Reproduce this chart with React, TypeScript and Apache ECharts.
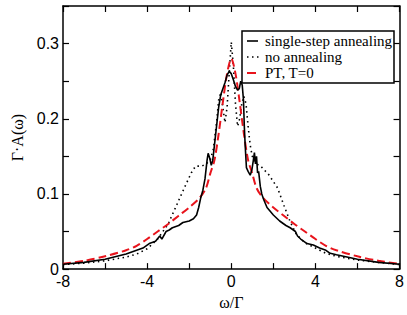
import React, { useEffect, useRef } from "react";
import * as echarts from "echarts";

// single-step annealing (solid black)
const solidW = [-8, -7, -6, -5, -4.5, -4.2, -3.9, -3.6, -3.4, -3.3, -3.1, -2.95, -2.8, -2.5, -2.3, -2.0, -1.8, -1.65, -1.55, -1.45, -1.35, -1.25, -1.15, -1.1, -1.02, -0.95, -0.88, -0.8, -0.7, -0.6, -0.5, -0.4, -0.3, -0.2, -0.1, 0, 0.1, 0.2, 0.3, 0.38, 0.45, 0.52, 0.58, 0.62, 0.66, 0.72, 0.8, 0.9, 0.98, 1.05, 1.1, 1.15, 1.2, 1.25, 1.3, 1.38, 1.45, 1.55, 1.7, 2.0, 2.3, 2.6, 2.8, 2.95, 3.05, 3.15, 3.3, 3.6, 3.9, 4.2, 4.5, 4.7, 5, 6, 7, 8];
const solidA = [0.0065, 0.009, 0.013, 0.02, 0.025, 0.028, 0.034, 0.037, 0.044, 0.04, 0.05, 0.052, 0.055, 0.058, 0.062, 0.064, 0.067, 0.072, 0.082, 0.095, 0.105, 0.12, 0.145, 0.154, 0.147, 0.138, 0.145, 0.165, 0.19, 0.215, 0.232, 0.24, 0.248, 0.258, 0.263, 0.26, 0.252, 0.243, 0.238, 0.24, 0.25, 0.245, 0.225, 0.19, 0.165, 0.135, 0.13, 0.125, 0.132, 0.145, 0.155, 0.14, 0.15, 0.128, 0.13, 0.11, 0.1, 0.092, 0.082, 0.072, 0.064, 0.058, 0.055, 0.052, 0.05, 0.044, 0.04, 0.034, 0.032, 0.028, 0.025, 0.021, 0.019, 0.013, 0.009, 0.0065];

// no annealing (dotted black)
const dotW = [-8, -7, -6, -5, -4.5, -4, -3.5, -3, -2.6, -2.2, -1.9, -1.7, -1.4, -1.2, -1.0, -0.85, -0.7, -0.6, -0.5, -0.4, -0.3, -0.2, -0.1, 0, 0.1, 0.2, 0.3, 0.4, 0.5, 0.6, 0.7, 0.8, 0.9, 1.0, 1.2, 1.4, 1.8, 2.2, 2.5, 2.8, 3.1, 3.5, 4.0, 4.5, 5, 6, 7, 8];
const dotA = [0.006, 0.008, 0.011, 0.016, 0.02, 0.027, 0.04, 0.06, 0.085, 0.11, 0.128, 0.137, 0.137, 0.14, 0.145, 0.16, 0.195, 0.225, 0.235, 0.215, 0.195, 0.215, 0.26, 0.302, 0.27, 0.22, 0.19, 0.2, 0.22, 0.23, 0.22, 0.19, 0.165, 0.15, 0.14, 0.137, 0.125, 0.108, 0.085, 0.063, 0.046, 0.035, 0.028, 0.021, 0.017, 0.012, 0.009, 0.006];

// PT, T=0 (red dashed)
const ptW = [-8, -7, -6, -5, -4.5, -4, -3.5, -3, -2.5, -2, -1.5, -1.2, -1, -0.8, -0.6, -0.4, -0.2, 0, 0.2, 0.4, 0.6, 0.8, 1, 1.2, 1.5, 2, 2.5, 3, 3.5, 4, 4.5, 5, 6, 7, 8];
const ptA = [0.007, 0.011, 0.017, 0.025, 0.031, 0.04, 0.05, 0.06, 0.071, 0.082, 0.095, 0.108, 0.127, 0.145, 0.18, 0.222, 0.26, 0.28, 0.26, 0.222, 0.18, 0.145, 0.127, 0.108, 0.095, 0.082, 0.071, 0.06, 0.05, 0.04, 0.031, 0.025, 0.017, 0.011, 0.007];

const legendNames = ["single-step annealing", "no annealing", "PT, T=0"];

const zip = (w: number[], a: number[]) => w.map((x, i) => [x, a[i]]);

export default function App() {
  const ref = useRef<HTMLDivElement>(null);
  useEffect(() => {
    if (!ref.current) return;
    document.body.style.margin = "0";
    const chart = echarts.init(ref.current, null, { renderer: "svg" });
    const sans = "Liberation Sans, Arial, sans-serif";
    const serif = "'Liberation Serif', 'Times New Roman', serif";
    const axisCommon = {
      axisLine: { show: true, onZero: false, lineStyle: { color: "#000", width: 1.5 } },
      axisTick: { show: true, inside: true, length: 6, lineStyle: { color: "#000", width: 1.2 } },
      splitLine: { show: false },
    };
    const lx = 247;
    const tx = 265;
    const rows = [41, 57, 73];
    chart.setOption({
      animation: false,
      backgroundColor: "#fff",
      grid: { left: 63, right: 7, top: 6, bottom: 40 },
      xAxis: [
        {
          type: "value", min: -8, max: 8, interval: 2, position: "bottom",
          ...axisCommon,
          name: "ω/Γ", nameLocation: "middle", nameGap: 21,
          nameTextStyle: { fontFamily: serif, fontSize: 16, color: "#000" },
          axisLabel: {
            fontFamily: sans, fontSize: 16, color: "#000", margin: 4,
            formatter: (v: number) => (v % 4 === 0 ? String(v) : ""),
          },
        },
        {
          type: "value", min: -8, max: 8, interval: 2, position: "top",
          ...axisCommon, axisLabel: { show: false },
        },
      ],
      yAxis: [
        {
          type: "value", min: 0, max: 0.35, interval: 0.05, position: "left",
          ...axisCommon,
          name: "Γ·A(ω)", nameLocation: "middle", nameGap: 30,
          nameTextStyle: { fontFamily: serif, fontSize: 16, color: "#000" },
          axisLabel: {
            fontFamily: sans, fontSize: 16, color: "#000", margin: 4,
            formatter: (v: number) => {
              const k = Math.round(v * 100);
              if (k % 10 !== 0 || k > 30) return "";
              return k === 0 ? "0" : (k / 100).toFixed(1);
            },
          },
        },
        {
          type: "value", min: 0, max: 0.35, interval: 0.05, position: "right",
          ...axisCommon, axisLabel: { show: false },
        },
      ],
      series: [
        {
          name: legendNames[1], type: "line", data: zip(dotW, dotA), showSymbol: false,
          lineStyle: { color: "#000", width: 1.6, type: [1.5, 3.5] }, z: 2,
        },
        {
          name: legendNames[2], type: "line", data: zip(ptW, ptA), showSymbol: false, smooth: 0.3,
          lineStyle: { color: "#e8141c", width: 2, type: [8, 4] }, z: 3,
        },
        {
          name: legendNames[0], type: "line", data: zip(solidW, solidA), showSymbol: false,
          lineStyle: { color: "#000", width: 1.6 }, z: 4,
        },
      ],
      graphic: [
        { type: "rect", shape: { x: 242, y: 31, width: 152, height: 52 }, style: { fill: "#fff", stroke: "#000", lineWidth: 1.5 }, z: 100 },
        { type: "line", shape: { x1: lx, y1: rows[0], x2: lx + 11, y2: rows[0] }, style: { stroke: "#000", lineWidth: 1.6 }, z: 101 },
        { type: "line", shape: { x1: lx, y1: rows[1], x2: lx + 14, y2: rows[1] }, style: { stroke: "#000", lineWidth: 1.6, lineDash: [1.5, 3.5] }, z: 101 },
        { type: "line", shape: { x1: lx, y1: rows[2], x2: lx + 9, y2: rows[2] }, style: { stroke: "#e8141c", lineWidth: 2 }, z: 101 },
        ...legendNames.map((n, i) => ({
          type: "text", x: tx, y: rows[i], z: 101,
          style: { text: n, font: "15px 'Liberation Serif', serif", fill: "#000", verticalAlign: "middle" },
        })),
      ],
    });
    return () => chart.dispose();
  }, []);
  return <div ref={ref} style={{ width: 407, height: 315 }} />;
}
